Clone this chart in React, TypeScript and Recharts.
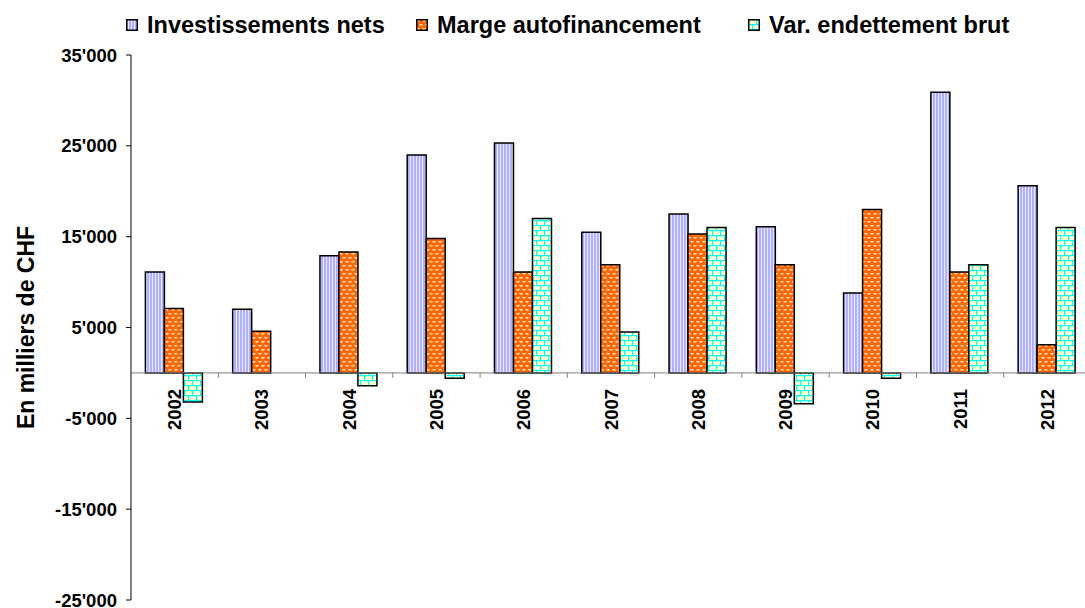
import React from 'react';
import { BarChart, Bar, XAxis, YAxis, Legend, ReferenceLine } from 'recharts';

const years = ['2002', '2003', '2004', '2005', '2006', '2007', '2008', '2009', '2010', '2011', '2012'];
const investissementsNets = [11100, 7000, 12900, 24000, 25300, 15500, 17500, 16100, 8800, 30900, 20600];
const margeAutofinancement = [7100, 4600, 13300, 14800, 11100, 11900, 15300, 11900, 18000, 11100, 3100];
const varEndettementBrut = [-3200, null, -1400, -600, 17000, 4500, 16000, -3400, -600, 11900, 16000];
const yTicks = [35000, 25000, 15000, 5000, -5000, -15000, -25000];

const FONT = '"Liberation Sans", Arial, sans-serif';
const CHART_W = 1096;
const CHART_H = 608;
const Y_AXIS_W = 131;
const RIGHT = 5;
const LEGEND_H = 40;
const PLOT_TOP = 55;
const PLOT_BOTTOM = 600;
const Y_MIN = -25000;
const Y_MAX = 35000;
const ZERO_Y = PLOT_TOP + ((PLOT_BOTTOM - PLOT_TOP) * Y_MAX) / (Y_MAX - Y_MIN);
const BAND = (CHART_W - Y_AXIS_W - RIGHT) / years.length;

const data = years.map((year, i) => ({
  year,
  inv: investissementsNets[i],
  marge: margeAutofinancement[i],
  dette: varEndettementBrut[i],
}));

// legend item widths keep the squares where the reference has them
const series = [
  { key: 'inv', name: 'Investissements nets', fill: 'url(#pInv)', itemW: 290 },
  { key: 'marge', name: 'Marge autofinancement', fill: 'url(#pMarge)', itemW: 332 },
  { key: 'dette', name: 'Var. endettement brut', fill: 'url(#pDette)', itemW: 300 },
];

const fmt = (n: number) => {
  const s = String(Math.abs(n)).replace(/\B(?=(\d{3})+(?!\d))/g, "'");
  return n < 0 ? '-' + s : s;
};

const Patterns = () => (
  <svg width={0} height={0} style={{ position: 'absolute' }}>
    <defs>
      <pattern id="pInv" patternUnits="userSpaceOnUse" width={3} height={4}>
        <rect width={3} height={4} fill="#B0B0FF" />
        <rect x={2} width={1} height={4} fill="#E8E8FF" />
      </pattern>
      <pattern id="pMarge" patternUnits="userSpaceOnUse" width={6} height={8}>
        <rect width={6} height={8} fill="#FF6600" />
        <rect x={0.5} y={1} width={3} height={1.5} fill="#FFE6D2" />
        <rect x={3.5} y={5} width={3} height={1.5} fill="#FFE6D2" />
        <rect x={-2.5} y={5} width={3} height={1.5} fill="#FFE6D2" />
      </pattern>
      <pattern id="pDette" patternUnits="userSpaceOnUse" width={8} height={10}>
        <rect width={8} height={10} fill="#FFFFCC" />
        <rect y={0} width={8} height={1.2} fill="#00FFFF" />
        <rect y={5} width={8} height={1.2} fill="#00FFFF" />
        <rect x={0} y={0} width={1.2} height={5} fill="#00FFFF" />
        <rect x={4} y={5} width={1.2} height={5} fill="#00FFFF" />
      </pattern>
    </defs>
  </svg>
);

const YearTick = (props: any) => {
  const { x, payload, index } = props;
  const left = x - BAND / 2;
  return (
    <g>
      {index > 0 && <line x1={left} x2={left} y1={ZERO_Y} y2={ZERO_Y + 5} stroke="#808080" />}
      {index === years.length - 1 && (
        <line x1={x + BAND / 2} x2={x + BAND / 2} y1={ZERO_Y} y2={ZERO_Y + 5} stroke="#808080" />
      )}
      <g transform={`translate(${x},${ZERO_Y + 16})`}>
        <text
          transform="rotate(-90)"
          textAnchor="end"
          dy="0.355em"
          fontFamily={FONT}
          fontWeight="bold"
          fontSize={18.5}
          fill="#000"
        >
          {payload.value}
        </text>
      </g>
    </g>
  );
};

const renderLegend = () => (
  <div
    style={{
      height: LEGEND_H,
      display: 'flex',
      alignItems: 'center',
      paddingLeft: 126,
      fontFamily: FONT,
      fontWeight: 'bold',
      fontSize: 23.5,
      color: '#000',
      whiteSpace: 'nowrap',
    }}
  >
    {series.map((s) => (
      <div key={s.key} style={{ display: 'flex', alignItems: 'center', width: s.itemW }}>
        <svg width={12} height={12} style={{ marginRight: 9 }}>
          <rect x={0.75} y={0.75} width={10.5} height={10.5} fill={s.fill} stroke="#000" strokeWidth={1.5} />
        </svg>
        <span>{s.name}</span>
      </div>
    ))}
  </div>
);

export default function App() {
  return (
    <div
      style={{
        position: 'absolute',
        left: 0,
        top: 0,
        width: 1085,
        height: 608,
        overflow: 'hidden',
        background: '#fff',
      }}
    >
      <Patterns />
      <BarChart
        width={CHART_W}
        height={CHART_H}
        data={data}
        margin={{ top: PLOT_TOP - LEGEND_H, right: RIGHT, left: 0, bottom: CHART_H - PLOT_BOTTOM - 1 }}
        barCategoryGap="16.5%"
        barGap={0}
      >
        <Legend
          verticalAlign="top"
          align="left"
          content={renderLegend}
          wrapperStyle={{ top: 5, left: 0, width: 1085 }}
        />
        <XAxis
          dataKey="year"
          height={1}
          axisLine={false}
          tickLine={false}
          interval={0}
          tick={<YearTick />}
        />
        <YAxis
          width={Y_AXIS_W}
          domain={[Y_MIN, Y_MAX]}
          ticks={yTicks}
          interval={0}
          tickFormatter={fmt}
          axisLine={{ stroke: '#000' }}
          tickLine={{ stroke: '#000' }}
          tickSize={5}
          tickMargin={9}
          tick={{ fill: '#000', fontFamily: FONT, fontWeight: 'bold', fontSize: 18.5 }}
          label={{
            value: 'En milliers de CHF',
            angle: -90,
            position: 'insideLeft',
            offset: 26,
            style: { textAnchor: 'middle', fontFamily: FONT, fontWeight: 'bold', fontSize: 23, fill: '#000' },
          }}
        />
        <ReferenceLine y={0} stroke="#808080" />
        {series.map((s) => (
          <Bar
            key={s.key}
            dataKey={s.key}
            name={s.name}
            fill={s.fill}
            stroke="#000"
            strokeWidth={1.5}
            isAnimationActive={false}
          />
        ))}
      </BarChart>
    </div>
  );
}
